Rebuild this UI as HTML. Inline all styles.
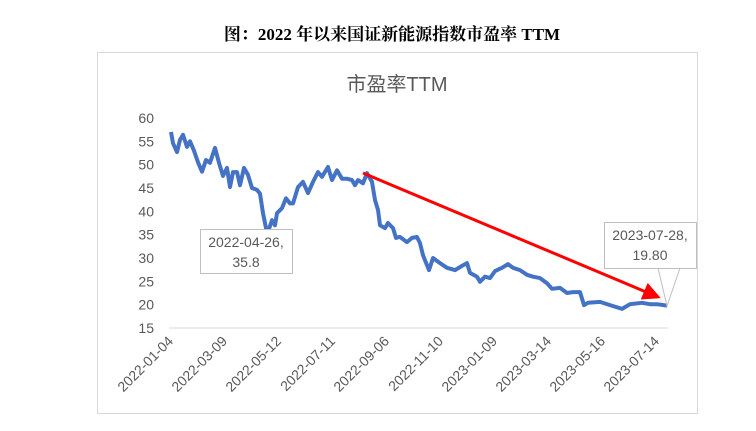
<!DOCTYPE html>
<html><head><meta charset="utf-8"><style>
body{margin:0;background:#fff;width:756px;height:426px;overflow:hidden}
</style></head><body>
<svg width="756" height="426" xmlns="http://www.w3.org/2000/svg" style="font-family:'Liberation Sans','Noto Sans CJK SC',sans-serif">
<text x="392" y="40" text-anchor="middle" font-size="17" font-weight="bold" font-family="'Liberation Serif','Noto Serif CJK SC',serif" fill="#000">图：2022 年以来国证新能源指数市盈率 TTM</text>
<rect x="97.5" y="52.5" width="600" height="361" fill="#fff" stroke="#d9d9d9"/>
<text x="397" y="91" text-anchor="middle" font-size="20" fill="#595959">市盈率TTM</text>
<g id="yaxis"></g>
<g id="xaxis"></g>
<g id="plot"></g>
</svg>
<script>
const yTicks=[15,20,25,30,35,40,45,50,55,60];
const xTickLabels=["2022-01-04","2022-03-09","2022-05-12","2022-07-11","2022-09-06","2022-11-10","2023-01-09","2023-03-14","2023-05-16","2023-07-14"];
const dayIdx=[1,3,7,10,13,17,20,24,28,32,36,40,45,49,53,57,60,63,67,70,74,78,82,87,90,93,96,98,102,105,107,112,116,120,123,128,133,138,143,148,152,158,162,167,172,177,182,185,188,193,197,202,205,208,210,215,218,223,226,229,230,237,242,247,250,253,259,263,270,277,285,292,297,300,307,310,315,320,325,332,338,343,350,357,363,370,377,382,390,397,403,410,414,418,430,440,452,460,472,480,487,497];
const peVals=[57,54.6,52.7,55.3,56.4,53.8,55,53,50.5,48.5,51,50.4,53.6,50.4,47.6,49.3,45.2,48.4,48.4,45.6,49.3,47.8,45,44.6,43.8,39.6,36.4,35.6,38.1,37,39.6,40.7,42.8,41.7,41.7,45.2,46.3,43.9,46.3,48.4,47.4,49.5,46.7,48.8,47,47,46.7,45.6,46.7,46,48.2,46.3,42.4,40.3,37,36.4,37.5,36.4,34.3,34.5,34.5,33.4,34.3,34.5,33.2,30.6,27.4,30,28.9,27.9,27.4,28.3,28.9,26.8,26,24.9,26,25.7,27.2,27.9,28.7,27.9,27.4,26.4,26,25.7,24.6,23.4,23.6,22.5,22.7,22.7,19.9,20.4,20.6,19.9,19.1,20.1,20.4,20.1,20.1,19.8];
const NS='http://www.w3.org/2000/svg';
const x0=170,x1=667,yMin=15,yMax=60,yB=328,yT=118,dayMax=497;
const nPts=Math.min(dayIdx.length,peVals.length);
const xs=d=>x0+(d/dayMax)*(x1-x0);
const ys=v=>yB-(v-yMin)/(yMax-yMin)*(yB-yT);
function mk(t,a,p){const e=document.createElementNS(NS,t);for(const k in a)e.setAttribute(k,a[k]);(p||document.getElementById('plot')).appendChild(e);return e;}
const ya=document.getElementById('yaxis');
yTicks.forEach(v=>{const t=mk('text',{x:154,y:ys(v)+5,'text-anchor':'end','font-size':14,fill:'#595959'},ya);t.textContent=v;

});
const base=mk('line',{x1:169,x2:668,y1:yB,y2:yB,stroke:'#d9d9d9','stroke-width':1},ya);


const xa=document.getElementById('xaxis');
const step=(656-170)/(xTickLabels.length-1);
xTickLabels.forEach((s,i)=>{const x=x0+i*step;const t=mk('text',{x:0,y:0,'text-anchor':'end','font-size':14,fill:'#595959',transform:`translate(${x+4},${yB+14}) rotate(-45)`},xa);t.textContent=s;

});
let d='';for(let i=0;i<nPts;i++){d+=(i?'L':'M')+xs(dayIdx[i]).toFixed(1)+','+ys(peVals[i]).toFixed(1);}
const line=mk('path',{d:d,fill:'none',stroke:'#4472c4','stroke-width':4,'stroke-linejoin':'round'});


mk('defs',{}).innerHTML='<marker id="ah" markerWidth="6" markerHeight="6" refX="5" refY="3" orient="auto"><path d="M0,0L6,3L0,6Z" fill="#ff0000"/></marker>';
const ar=mk('line',{x1:363,y1:173,x2:658,y2:297,stroke:'#ff0000','stroke-width':3,'marker-end':'url(#ah)'});


function lbl(x,y,w,h,l1,l2,name){const g=mk('g',{});
mk('rect',{x:x+.5,y:y+.5,width:w,height:h,fill:'#fff',stroke:'#bfbfbf'},g);
const a=mk('text',{x:x+w/2,y:y+18,'text-anchor':'middle','font-size':14,fill:'#595959'},g);a.textContent=l1;
const b=mk('text',{x:x+w/2,y:y+38,'text-anchor':'middle','font-size':14,fill:'#595959'},g);b.textContent=l2;return g;}
lbl(200,229,92,44,'2022-04-26,','35.8','label-min');
const g2=lbl(604,222,92,46,'2023-07-28,','19.80','label-last');
mk('path',{d:'M658,268L667,306L680,268',fill:'none',stroke:'#bfbfbf'},g2);
</script>
</body></html>
